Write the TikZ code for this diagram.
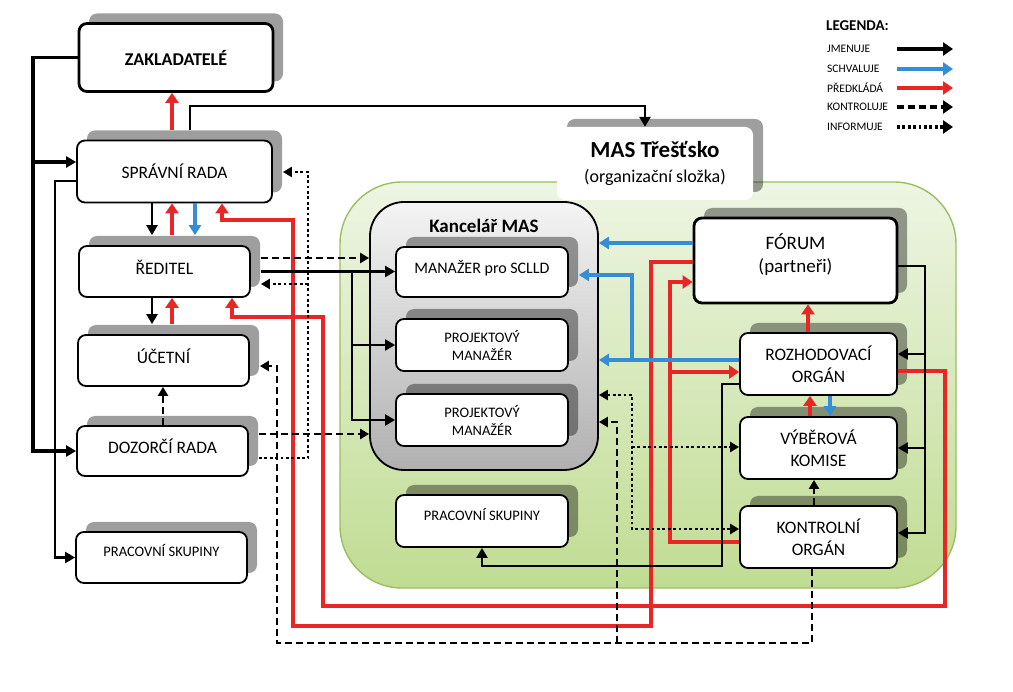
\documentclass[tikz,border=0pt]{standalone}
\usepackage{fontspec}
\setmainfont{Carlito}
\usetikzlibrary{arrows.meta,shadows,positioning}
\definecolor{masblue}{RGB}{52,142,214}
\definecolor{masred}{RGB}{233,38,38}
\definecolor{greenedge}{RGB}{155,190,95}
\definecolor{greentop}{RGB}{238,245,228}
\definecolor{greenbot}{RGB}{192,220,146}
\definecolor{kanctop}{RGB}{244,244,244}
\definecolor{kancbot}{RGB}{176,176,176}

\tikzset{
  box/.style={draw, line width=1.8pt, rounded corners=8pt, fill=white, align=center,
    font=\fontsize{17.5}{22}\selectfont, inner sep=2pt,
    drop shadow={shadow xshift=10pt, shadow yshift=10pt, fill=black, opacity=.38}},
  small/.style={font=\fontsize{14.5}{18}\selectfont},
  sz/.style 2 args={minimum width=#1pt, minimum height=#2pt},
  lift/.style={text depth=#1pt},
  jm/.style={line width=2.8pt, -{Triangle[length=10pt,width=11pt]}},
  thin/.style={line width=2.1pt},
  sv/.style={masblue, line width=3.4pt, -{Triangle[length=10pt,width=12pt]}},
  pk/.style={masred, line width=4pt, -{Triangle[length=10pt,width=13pt]}},
  kt/.style={line width=2.6pt, dash pattern=on 7pt off 4pt, -{Triangle[length=9pt,width=10pt]}},
  inf/.style={line width=2.8pt, dash pattern=on 2.8pt off 2.6pt, -{Triangle[length=9pt,width=10pt]}},
  tosh/.style={shorten >=10pt},
  fromsh/.style={shorten <=10pt},
}

\begin{document}
\begin{tikzpicture}[x=1pt,y=-1pt]
\useasboundingbox (0,0) rectangle (1013,692);

% MAS area
\draw[greenedge, line width=1.4pt, top color=greentop, bottom color=greenbot, rounded corners=62pt]
  (340,182) rectangle (956,588);
\node[fill=white, rounded corners=8pt, sz={196}{73}, align=center, font=\fontsize{18}{25}\selectfont,
  drop shadow={shadow xshift=10pt, shadow yshift=8pt, fill=black, opacity=.38}] (mas) at (655,163.5)
  {{\fontsize{23}{25}\selectfont\bfseries MAS Třešťsko}\\(organizační složka)};

% Kancelar
\node[draw, line width=1.8pt, rounded corners=34pt, top color=kanctop, bottom color=kancbot, sz={228}{268}] (kanc) at (484,336) {};
\node[font=\fontsize{19}{22}\selectfont\bfseries] (kancT) at (484,226) {Kancelář MAS};

% left column
\node[box, line width=2.8pt, font=\fontsize{18}{22}\selectfont\bfseries, sz={194}{68}] (zakl) at (176,57.5) {ZAKLADATELÉ};
\node[box, sz={195}{62}] (sprava) at (174.5,171.5) {SPRÁVNÍ RADA};
\node[box, sz={171}{51}, lift=9] (reditel) at (164.5,271.5) {ŘEDITEL};
\node[box, sz={171}{51}, lift=9] (ucetni) at (163.5,360.5) {ÚČETNÍ};
\node[box, sz={171}{50}, lift=9] (dozor) at (162.5,451) {DOZORČÍ RADA};
\node[box, small, sz={171}{51}, lift=14] (pracL) at (161.5,557.5) {PRACOVNÍ SKUPINY};

% office
\node[box, font=\fontsize{16}{20}\selectfont, sz={172}{50}, lift=10] (man) at (482,272) {MANAŽER pro SCLLD};
\node[box, small, sz={172}{52}] (proj1) at (482,345) {PROJEKTOVÝ\\MANAŽÉR};
\node[box, small, sz={172}{52}] (proj2) at (482,420) {PROJEKTOVÝ\\MANAŽÉR};
\node[box, small, sz={172}{52}, lift=14] (pracR) at (482,521) {PRACOVNÍ SKUPINY};

% bodies
\node[box, line width=2.8pt, font=\fontsize{19}{23}\selectfont, sz={203}{85}, lift=14] (forum) at (795.5,260.5) {FÓRUM\\(partneři)};
\node[box, sz={157}{62}] (rozh) at (818.5,364) {ROZHODOVACÍ\\ORGÁN};
\node[box, sz={157}{62}] (vyber) at (818.5,448) {VÝBĚROVÁ\\KOMISE};
\node[box, sz={157}{62}] (kontr) at (818.5,537) {KONTROLNÍ\\ORGÁN};

% legend
\node[font=\fontsize{15}{18}\selectfont\bfseries, anchor=west, inner sep=0pt] (leg) at (826,26) {LEGENDA:};
\foreach \lbl/\sty/\yy [count=\i] in {JMENUJE/jm/49, SCHVALUJE/sv/69, PŘEDKLÁDÁ/pk/88, KONTROLUJE/kt/107, INFORMUJE/inf/127} {
  \node[font=\fontsize{11.5}{14}\selectfont, anchor=west, inner sep=0pt] (leg\i) at (827,\yy) {\lbl};
  \coordinate (legA\i) at (897,\yy);
  \coordinate (legB\i) at (953,\yy);
  \draw[\sty, line width=4.5pt, -{Triangle[length=10pt,width=13pt]}] (legA\i) -- (legB\i);
}

% predklada
\draw[pk, fromsh] (sprava.north -| 172,0) -- (zakl.south -| 172,0);
\draw[pk, fromsh] (reditel.north -| 172,0) -- (sprava.south -| 172,0);
\draw[pk, fromsh] (ucetni.north -| 172,0) -- (reditel.south -| 172,0);
\draw[pk] (forum.west |- 0,262) -| (651,626) -| (293,220) -| (sprava.south -| 222,0);
\draw[pk] (rozh.east |- 0,371) -| (945,606) -| (323,317) -| (reditel.south -| 232,0);
\draw[pk] (kontr.west |- 0,542) -| (670,282) -- (forum.west |- 0,282);
\draw[pk] (670,372) -- (rozh.west |- 0,372);
\draw[pk] (rozh.north -| 808,0) -- (forum.south -| 808,0);
\draw[pk] (vyber.north -| 810,0) -- (rozh.south -| 810,0);

% schvaluje
\draw[sv, tosh] (sprava.south -| 195,0) -- (reditel.north -| 195,0);
\draw[sv] (forum.west |- 0,243) -- (kanc.east |- 0,243);
\draw[sv] (rozh.west |- 0,360) -- (kanc.east |- 0,360);
\draw[sv, tosh] (632,360) |- (man.east |- 0,275);
\draw[sv] (rozh.south -| 830,0) -- (vyber.north -| 830,0);

% jmenuje
\draw[jm, line width=3.4pt] (zakl.west) -| (33,451) -- (dozor.west);
\draw[jm, line width=3.4pt] (33,162) -- (sprava.west |- 0,162);
\draw[jm] (sprava.west |- 0,181) -- (55,181) |- (pracL.west);
\draw[jm, fromsh] (sprava.north -| 190,0) |- (645,106) -- (mas.north -| 645,0);
\draw[jm, tosh] (sprava.south -| 152,0) -- (reditel.north -| 152,0);
\draw[jm, tosh] (reditel.south -| 152,0) -- (ucetni.north -| 152,0);
\draw[jm, thin, fromsh] (reditel.east) -- (reditel.east -| man.west);
\draw[jm, thin] (352,271.5) |- (proj1.west);
\draw[jm, thin] (352,271.5) |- (proj2.west);
\draw[jm, thin] (forum.east |- 0,266) -| (925,533) -- (kontr.east |- 0,533);
\draw[jm, thin] (925,354) -- (rozh.east |- 0,354);
\draw[jm, thin] (925,448) -- (vyber.east);
\draw[jm, thin] (rozh.west |- 0,384) -| (722,566) -| (pracR.south);

% kontroluje
\draw[kt] (dozor.north -| 163,0) -- (ucetni.south -| 163,0);
\draw[kt, fromsh] (dozor.east |- 0,434) -- (kanc.west |- 0,434);
\draw[kt, fromsh] (reditel.east |- 0,258) -- (kanc.west |- 0,258);
\draw[kt, tosh] (kontr.south -| 812,0) |- (277,643) |- (ucetni.east |- 0,366);
\draw[kt] (617,643) |- (kanc.east |- 0,422);
\draw[kt] (kontr.north -| 814,0) -- (vyber.south -| 814,0);

% informuje
\draw[inf, fromsh, tosh] (dozor.east |- 0,458) -| (308,172) -- (sprava.east |- 0,172);
\draw[inf, tosh] (308,284) -- (reditel.east |- 0,284);
\draw[inf, {Triangle[length=9pt,width=10pt]}-{Triangle[length=9pt,width=10pt]}] (kanc.east |- 0,395) -| (632,529) -- (kontr.west |- 0,529);
\draw[inf] (632,447) -- (vyber.west |- 0,447);
\end{tikzpicture}
\end{document}
